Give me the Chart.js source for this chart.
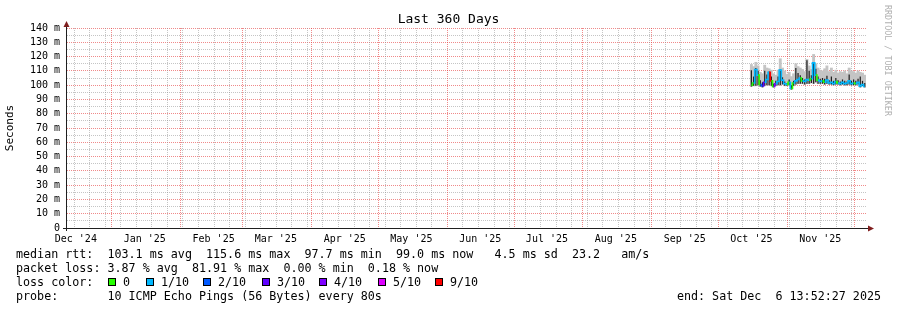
<!DOCTYPE html>
<html>
<head>
<meta charset="utf-8">
<script src="https://cdn.jsdelivr.net/npm/chart.js@4.4.1/dist/chart.umd.min.js"></script>
<style>
html, body { margin: 0; padding: 0; background: #fff; }
canvas { display: block; }
</style>
</head>
<body>
<canvas id="smokeChart" width="897" height="310"></canvas>
<script>
// days are counted from 1 Jan 2025 (= day 0); the graph covers 360 days up to Sat Dec 6 13:52:27 2025
const rangeStart = -20.422;
const rangeEnd = 339.578;

const monthLabels = ["Dec '24", "Jan '25", "Feb '25", "Mar '25", "Apr '25", "May '25", "Jun '25",
    "Jul '25", "Aug '25", "Sep '25", "Oct '25", "Nov '25"];
const monthStartDays = [-31, 0, 31, 59, 90, 120, 151, 181, 212, 243, 273, 304, 334];
const firstSunday = -17;    // Dec 15 2024

// one sample per day, 16 Oct .. 6 Dec 2025
const sampleDays = [288, 289, 290, 291, 292, 293, 294, 295, 296, 297, 298, 299, 300, 301, 302, 303, 304,
    305, 306, 307, 308, 309, 310, 311, 312, 313, 314, 315, 316, 317, 318, 319, 320, 321, 322, 323, 324,
    325, 326, 327, 328, 329, 330, 331, 332, 333, 334, 335, 336, 337, 338, 339];
const medianRtt = [100.0, 101.5, 111.0, 107.0, 100.5, 99.5, 102.0, 104.0, 109.0, 103.0, 99.0, 101.0, 102.5,
    110.5, 103.5, 101.0, 100.5, 102.0, 97.7, 101.5, 103.0, 104.0, 105.0, 103.0, 102.5, 104.0, 103.5, 104.5,
    115.6, 107.0, 103.5, 102.5, 103.0, 102.0, 103.5, 101.5, 102.0, 101.0, 102.5, 101.5, 101.0, 102.0, 101.0,
    101.5, 103.0, 101.0, 101.5, 101.0, 102.0, 99.5, 100.5, 99.0];
const lowRtt = [99.0, 99.5, 99.5, 100.0, 99.0, 98.5, 99.5, 100.0, 100.0, 99.5, 98.5, 99.5, 100.0, 100.0, 100.5,
    99.5, 99.5, 100.0, 97.0, 99.5, 100.5, 101.0, 101.0, 101.0, 100.5, 101.0, 101.0, 101.5, 101.0, 102.0, 101.0,
    101.0, 101.0, 100.5, 101.0, 100.5, 100.5, 100.0, 100.5, 100.5, 100.0, 100.5, 100.0, 100.0, 100.5, 100.0,
    100.0, 100.0, 100.5, 98.5, 99.5, 98.5];
const denseTop = [110.5, 106.0, 112.0, 110.0, 103.5, 102.0, 110.0, 107.5, 109.5, 106.0, 101.0, 103.0, 106.0,
    111.0, 105.5, 102.5, 101.5, 104.0, 100.0, 103.0, 112.0, 108.5, 107.0, 105.0, 104.0, 117.5, 110.0, 107.0,
    116.0, 111.5, 106.0, 104.5, 105.0, 104.5, 106.5, 103.5, 106.0, 103.0, 105.0, 103.5, 102.5, 104.0, 103.0,
    102.5, 107.5, 103.0, 104.0, 103.0, 104.5, 106.0, 103.0, 101.5];
const smokeTop = [114.5, 113.0, 116.0, 113.5, 109.0, 108.0, 114.0, 112.0, 111.5, 110.5, 108.0, 107.0, 110.5,
    118.5, 112.0, 110.0, 107.5, 109.0, 106.0, 108.0, 115.0, 113.0, 112.0, 111.0, 109.5, 118.0, 113.5, 111.0,
    121.5, 115.0, 112.0, 110.5, 110.0, 111.5, 113.5, 109.5, 112.0, 109.0, 110.5, 108.5, 109.5, 109.0, 110.0,
    108.0, 112.0, 110.0, 109.5, 108.5, 110.0, 109.0, 108.5, 107.0];
// index into lossLabels / lossColors
const lossLevel = [0, 1, 1, 0, 2, 3, 1, 1, 6, 0, 4, 1, 1, 1, 1, 1, 0, 1, 0, 1, 1, 1, 0, 1, 1, 1, 0, 1, 1, 0,
    1, 1, 0, 1, 1, 1, 1, 1, 0, 1, 1, 1, 1, 1, 1, 1, 0, 1, 1, 1, 1, 1];

const lossLabels = ['0', '1/10', '2/10', '3/10', '4/10', '5/10', '9/10'];
const lossColors = ['#26ff00', '#00b8ff', '#0059ff', '#5e00ff', '#7e00ff', '#dd00ff', '#ff0000'];

const rttLine = 'median rtt:  103.1 ms avg  115.6 ms max  97.7 ms min  99.0 ms now   4.5 ms sd  23.2   am/s';
const lossLine = 'packet loss: 3.87 % avg  81.91 % max  0.00 % min  0.18 % now';
const probeLine = 'probe:       10 ICMP Echo Pings (56 Bytes) every 80s';
const endLine = 'end: Sat Dec  6 13:52:27 2025';

const MONO = "'DejaVu Sans Mono', monospace";
const majorGrid = 'rgba(230, 60, 60, 0.6)';
const minorGrid = 'rgba(140, 140, 140, 0.5)';
const arrowColor = '#801f1f';

Chart.defaults.font.family = MONO;
Chart.defaults.color = '#000';

// x ticks only carry the month labels (mid month); grid lines are drawn by the plugin below
function buildLabelTicks(scale) {
    const ticks = [];
    monthLabels.forEach((lbl, i) => {
        const d = monthStartDays[i] + 15;
        if (d >= rangeStart && d <= rangeEnd) ticks.push({ value: d, text: lbl });
    });
    scale.ticks = ticks;
}

const timeGrid = {
    id: 'timeGrid',
    beforeDatasetsDraw(chart) {
        const { ctx, chartArea: area, scales: { x } } = chart;
        const line = (d, color) => {
            if (d < rangeStart || d > rangeEnd) return;
            const px = Math.round(x.getPixelForValue(d)) + 0.5;
            ctx.strokeStyle = color;
            ctx.beginPath();
            ctx.moveTo(px, area.top);
            ctx.lineTo(px, area.bottom);
            ctx.stroke();
        };
        ctx.save();
        ctx.lineWidth = 1;
        ctx.setLineDash([1, 1]);
        for (let d = firstSunday; d <= rangeEnd; d += 7) {
            if (!monthStartDays.includes(d)) line(d, minorGrid);
        }
        monthStartDays.forEach(d => line(d, majorGrid));
        ctx.restore();
    }
};

const extras = {
    id: 'extras',
    afterDraw(chart) {
        const { ctx, chartArea: area } = chart;
        ctx.save();
        // axis extensions and arrows
        ctx.strokeStyle = '#1f1f1f';
        ctx.lineWidth = 1;
        ctx.beginPath();
        ctx.moveTo(area.left - 3, area.bottom + 0.5);
        ctx.lineTo(area.right + 3, area.bottom + 0.5);
        ctx.moveTo(area.left + 0.5, area.bottom + 3);
        ctx.lineTo(area.left + 0.5, area.top - 2);
        ctx.stroke();
        ctx.fillStyle = arrowColor;
        ctx.beginPath();
        ctx.moveTo(area.left - 2.5, area.top - 1);
        ctx.lineTo(area.left + 3.5, area.top - 1);
        ctx.lineTo(area.left + 0.5, area.top - 7);
        ctx.closePath();
        ctx.fill();
        ctx.beginPath();
        ctx.moveTo(area.right + 2, area.bottom - 2.5);
        ctx.lineTo(area.right + 2, area.bottom + 3.5);
        ctx.lineTo(area.right + 8, area.bottom + 0.5);
        ctx.closePath();
        ctx.fill();

        // watermark
        ctx.save();
        ctx.translate(887.5, 5);
        ctx.rotate(Math.PI / 2);
        ctx.font = '8.4px ' + MONO;
        ctx.fillStyle = '#b0b0b0';
        ctx.textBaseline = 'middle';
        ctx.fillText('RRDTOOL / TOBI OETIKER', 0, 0);
        ctx.restore();

        // legend block
        ctx.font = '11.7px ' + MONO;
        ctx.fillStyle = '#000';
        ctx.textBaseline = 'alphabetic';
        ctx.fillText(rttLine, 16, 258);
        ctx.fillText(lossLine, 16, 272);
        ctx.fillText('loss color:', 16, 286);
        const boxX = [108, 146, 203, 262, 319, 378, 435];
        lossLabels.forEach((lbl, i) => {
            ctx.fillStyle = lossColors[i];
            ctx.fillRect(boxX[i], 278, 8, 8);
            ctx.strokeStyle = '#000';
            ctx.strokeRect(boxX[i] + 0.5, 278.5, 7, 7);
            ctx.fillStyle = '#000';
            ctx.fillText(lbl, boxX[i] + 15, 286);
        });
        ctx.fillText(probeLine, 16, 300);
        ctx.textAlign = 'right';
        ctx.fillText(endLine, 881, 300);
        ctx.restore();
    }
};

const lightSmoke = sampleDays.map((d, i) => ({ x: d, y: [lowRtt[i], smokeTop[i]] }));
const darkSmoke = sampleDays.map((d, i) => ({ x: d, y: [lowRtt[i], denseTop[i]] }));
const medianPts = sampleDays.map((d, i) => ({ x: d, y: medianRtt[i] }));

new Chart(document.getElementById('smokeChart'), {
    type: 'bar',
    data: {
        datasets: [
            {
                type: 'line',
                data: medianPts,
                borderWidth: 1.6,
                pointRadius: 0,
                stepped: 'middle',
                segment: {
                    borderColor: ctx => lossColors[lossLevel[ctx.p0DataIndex]]
                },
                borderColor: lossColors[1],
                order: 0
            },
            {
                data: darkSmoke,
                backgroundColor: '#202020',
                barPercentage: 0.55,
                categoryPercentage: 1,
                grouped: false,
                order: 1
            },
            {
                data: lightSmoke,
                backgroundColor: '#c4c4c4',
                barPercentage: 1,
                categoryPercentage: 1,
                grouped: false,
                order: 2
            }
        ]
    },
    options: {
        responsive: false,
        animation: false,
        layout: { padding: { left: 0, right: 0, top: 0, bottom: 62 } },
        scales: {
            x: {
                type: 'linear',
                min: rangeStart,
                max: rangeEnd,
                offset: false,
                afterBuildTicks: buildLabelTicks,
                afterFit: s => { s.height = 20; },
                ticks: {
                    autoSkip: false,
                    maxRotation: 0,
                    padding: 5,
                    font: { size: 10 },
                    callback: (v, i, ticks) => ticks[i].text
                },
                grid: { display: false, drawTicks: false },
                border: { color: '#000' }
            },
            y: {
                min: 0,
                max: 140,
                afterFit: s => { s.width = 66; },
                ticks: {
                    stepSize: 5,
                    autoSkip: false,
                    padding: 6,
                    font: { size: 10 },
                    callback: v => (v % 10 ? '' : (v === 0 ? '0' : v + ' m'))
                },
                grid: {
                    drawTicks: false,
                    color: ctx => (ctx.tick && ctx.tick.value % 10 ? minorGrid : majorGrid)
                },
                border: { color: '#1f1f1f', dash: [1, 1] },
                title: {
                    display: true,
                    text: 'Seconds',
                    font: { size: 11 },
                    padding: { top: 3.5, bottom: 0 }
                }
            },
            spacer: {
                position: 'right',
                display: true,
                afterFit: s => { s.width = 31; },
                ticks: { display: false },
                grid: { display: false },
                border: { display: false }
            }
        },
        plugins: {
            legend: { display: false },
            tooltip: { enabled: false },
            title: {
                display: true,
                text: 'Last 360 Days',
                font: { size: 13, weight: 'normal' },
                color: '#000',
                padding: { top: 12, bottom: 0.4 }
            }
        }
    },
    plugins: [timeGrid, extras]
});
</script>
</body>
</html>
